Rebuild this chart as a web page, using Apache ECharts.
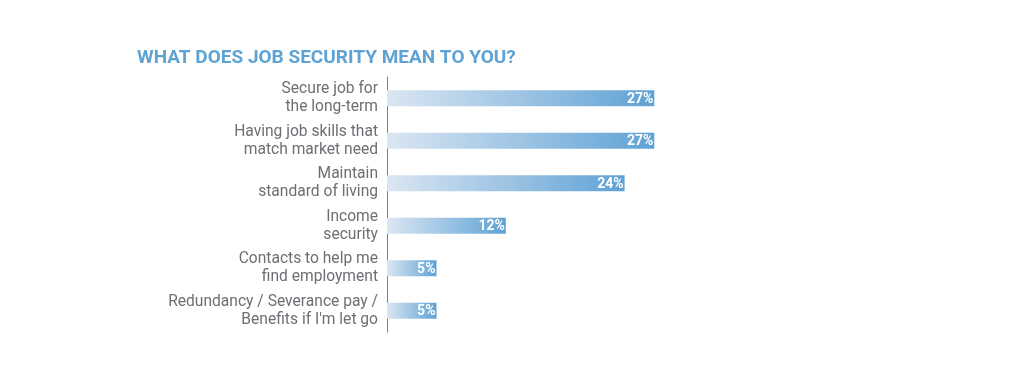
<!DOCTYPE html>
<html><head><meta charset="utf-8">
<script src="https://cdn.jsdelivr.net/npm/echarts@6/dist/echarts.min.js"></script>
<style>html,body{margin:0;padding:0;background:#fff}#c{width:1036px;height:375px}</style>
</head><body><div id="c"></div>
<script>
const categories = [
  "Secure job for\nthe long-term",
  "Having job skills that\nmatch market need",
  "Maintain\nstandard of living",
  "Income\nsecurity",
  "Contacts to help me\nfind employment",
  "Redundancy / Severance pay /\nBenefits if I'm let go"
];
const values = [27, 27, 24, 12, 5, 5];
const titleText = "WHAT DOES JOB SECURITY MEAN TO YOU?";

const chart = echarts.init(document.getElementById('c'), null, {renderer: 'canvas'});
chart.setOption({
  animation: false,
  title: {
    text: titleText, left: 132, top: 44,
    textStyle: {color: '#5ea3d4', fontFamily: 'Roboto', fontWeight: 'bold', fontSize: 19}
  },
  grid: {left: 387, top: 77, bottom: 43, width: 396},
  xAxis: {type: 'value', min: 0, max: 40, show: false},
  yAxis: {
    type: 'category', data: categories, inverse: true,
    axisLine: {show: true, lineStyle: {color: '#7f7f7f', width: 1}},
    axisTick: {show: false},
    axisLabel: {color: '#6e6e74', fontFamily: 'Roboto', fontSize: 15.6, lineHeight: 18, margin: 9, align: 'right'}
  },
  series: [{
    type: 'bar', data: values, barWidth: 16,
    itemStyle: {color: new echarts.graphic.LinearGradient(0, 0, 1, 0, [
      {offset: 0, color: '#dbe6f2'}, {offset: 1, color: '#5fa2d5'}])},
    label: {show: true, position: 'insideRight', offset: [4, 1], formatter: '{c}%', color: '#fff',
      fontFamily: 'Roboto', fontWeight: 'bold', fontSize: 14}
  }]
});
</script></body></html>
